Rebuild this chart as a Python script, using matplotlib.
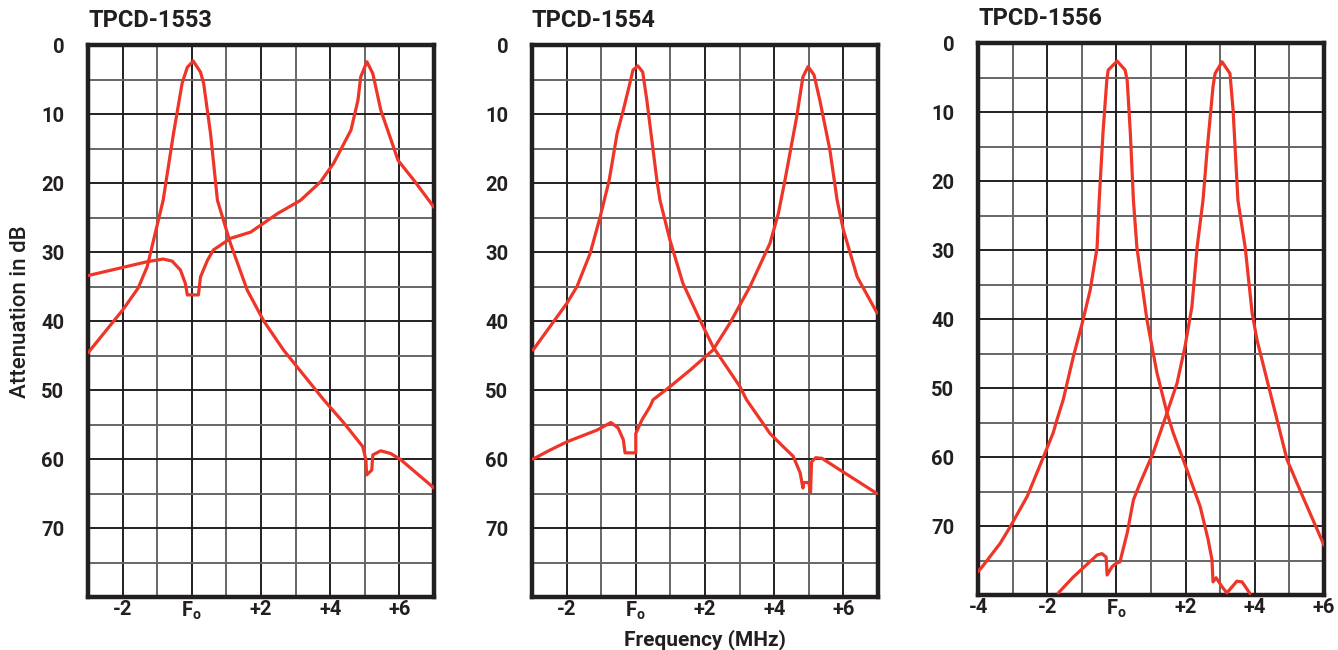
import matplotlib
matplotlib.use('Agg')
import matplotlib.pyplot as plt

plt.rcParams['font.family'] = ['Roboto', 'DejaVu Sans']
plt.rcParams['mathtext.fontset'] = 'custom'
plt.rcParams['mathtext.rm'] = 'Roboto:bold'
plt.rcParams['mathtext.it'] = 'Roboto:bold'
plt.rcParams['mathtext.bf'] = 'Roboto:bold'

# ---- data (MHz from Fo, attenuation dB) ----
titles = ['TPCD-1553', 'TPCD-1554', 'TPCD-1556']

# TPCD-1553
p1_lo_x = [-3.0, -2.0, -1.55, -1.29, -1.06, -0.83, -0.53, -0.28, -0.13, 0.04, 0.25, 0.34,
           0.54, 0.74, 1.12, 1.6, 2.08, 2.65, 3.81, 4.4, 4.94, 5.03, 5.05, 5.2, 5.23, 5.46,
           5.75, 6.04, 7.0]
p1_lo_db = [44.6, 38.4, 35.2, 32.1, 27.3, 22.5, 12.8, 5.5, 3.2, 2.3, 3.9, 5.5,
            12.8, 22.5, 28.8, 35.5, 40.0, 44.2, 51.4, 54.8, 58.2, 60.1, 62.3, 61.6, 59.4, 58.8,
            59.2, 60.1, 64.2]
p1_hi_x = [-3.0, -1.3, -0.83, -0.57, -0.33, -0.19, -0.13, 0.19, 0.25, 0.45, 0.62, 1.12,
           1.7, 2.48, 3.14, 3.72, 4.1, 4.6, 4.8, 4.88, 5.06, 5.23, 5.46, 5.96, 6.42, 7.0]
p1_hi_db = [33.4, 31.4, 31.0, 31.3, 32.6, 34.5, 36.2, 36.2, 33.6, 31.2, 29.7, 28.0,
            27.1, 24.4, 22.5, 19.8, 17.1, 12.3, 8.0, 4.6, 2.4, 4.1, 9.4, 16.7, 19.6, 23.5]

# TPCD-1554
p2_lo_x = [-2.97, -1.99, -1.7, -1.32, -1.03, -0.77, -0.54, -0.36, -0.17, -0.08, 0.06, 0.2,
           0.32, 0.5, 0.61, 0.7, 0.99, 1.36, 1.86, 2.23, 3.01, 3.2, 3.88, 4.26, 4.55, 4.75,
           4.83, 4.85, 5.0, 5.05, 5.08, 5.2, 5.38, 6.97]
p2_lo_db = [44.2, 37.4, 35.0, 30.2, 24.9, 19.6, 12.8, 9.4, 5.5, 3.6, 3.0, 3.9,
            8.0, 15.2, 19.6, 22.5, 28.3, 34.5, 39.9, 43.7, 49.5, 51.4, 56.3, 58.2, 59.6, 62.0,
            64.2, 63.4, 63.4, 64.8, 60.4, 59.8, 59.9, 65.0]
p2_hi_x = [-2.97, -2.48, -1.99, -1.12, -0.72, -0.51, -0.36, -0.31, 0.0, 0.0, 0.18, 0.41,
           0.5, 0.99, 1.57, 2.23, 2.72, 3.3, 3.88, 4.12, 4.31, 4.65, 4.83, 4.98, 5.15, 5.32,
           5.61, 5.82, 6.0, 6.4, 6.97]
p2_hi_db = [60.0, 58.7, 57.5, 55.8, 54.7, 55.5, 57.2, 59.1, 59.1, 56.3, 54.3, 52.4,
            51.4, 49.5, 47.1, 44.2, 40.3, 35.0, 28.7, 24.4, 19.6, 10.4, 4.6, 3.1, 4.3, 8.0,
            15.2, 22.5, 26.8, 33.6, 38.8]

# TPCD-1556
p3_lo_x = [-4.0, -3.88, -3.36, -3.07, -2.58, -2.12, -1.83, -1.72, -1.54, -1.25, -0.99, -0.76,
           -0.56, -0.5, -0.39, -0.28, -0.24, 0.02, 0.25, 0.31, 0.4, 0.49, 0.59, 0.88, 1.17,
           1.46, 1.64, 2.04, 2.42, 2.65, 2.76, 2.79, 2.88, 3.05, 3.19, 3.48, 3.63, 3.86]
p3_lo_db = [76.6, 75.9, 72.5, 70.1, 65.7, 60.1, 56.5, 54.6, 51.7, 45.5, 40.6, 35.8,
            29.6, 22.8, 13.0, 5.4, 3.9, 2.6, 3.9, 5.4, 13.0, 22.8, 29.6, 40.1, 47.8,
            53.6, 56.5, 61.9, 67.2, 72.0, 74.9, 78.1, 77.5, 78.8, 79.7, 78.0, 78.1, 79.8]
p3_hi_x = [-1.68, -1.25, -0.56, -0.42, -0.3, -0.27, -0.13, -0.01, 0.1, 0.31, 0.49, 0.68,
           1.06, 1.46, 1.75, 1.98, 2.18, 2.33, 2.5, 2.62, 2.79, 2.85, 3.05, 3.28, 3.37, 3.51,
           3.72, 3.92, 4.06, 4.35, 4.64, 4.93, 5.39, 6.0]
p3_hi_db = [79.7, 77.4, 74.2, 74.0, 74.5, 77.1, 75.9, 75.4, 75.2, 71.0, 66.2, 63.8,
            59.4, 53.6, 49.3, 44.0, 38.2, 29.6, 22.8, 15.5, 6.3, 4.4, 2.7, 4.4, 9.7, 22.8,
            29.6, 39.1, 43.0, 48.8, 54.6, 60.4, 65.8, 72.8]

panels = [
    (titles[0], (-3, 7), [(p1_lo_x, p1_lo_db), (p1_hi_x, p1_hi_db)], 0.0658, 0.0815),
    (titles[1], (-3, 7), [(p2_lo_x, p2_lo_db), (p2_hi_x, p2_hi_db)], 0.3976, 0.0815),
    (titles[2], (-4, 6), [(p3_lo_x, p3_lo_db), (p3_hi_x, p3_hi_db)], 0.7310, 0.0846),
]

red = '#ee3527'
ink = '#231f20'

fig = plt.figure(figsize=(13.38, 6.5), dpi=100)

for title, xlim, curves, left, bottom in panels:
    ax = fig.add_axes([left, bottom, 0.2586, 0.849])
    for x, db in curves:
        ax.plot(x, db, color=red, lw=2.3, solid_joinstyle='round', solid_capstyle='round',
                zorder=3)
    ax.set_xlim(*xlim)
    ax.set_ylim(80, 0)

    xt = list(range(xlim[0], xlim[1] + 1))
    xl = []
    for v in xt:
        if v == 0:
            xl.append('F$_{o}$')
        elif v % 2 == 0 and (v != xlim[0] or v == -4):
            xl.append('%+d' % v if v > 0 else str(v))
        else:
            xl.append('')
    ax.set_xticks(xt)
    ax.set_xticklabels(xl, fontsize=14.5, fontweight='bold', color=ink)

    yt = list(range(0, 81, 5))
    yl = [str(v) if v % 10 == 0 and v < 80 else '' for v in yt]
    ax.set_yticks(yt)
    ax.set_yticklabels(yl, fontsize=14.5, fontweight='bold', color=ink)

    ax.tick_params(length=0)
    ax.tick_params(axis='y', pad=17)
    ax.tick_params(axis='x', pad=2)
    ax.grid(True, color=ink, lw=1.4)
    for v, gl in zip(xt, ax.get_xgridlines()):
        if v % 2 != 0:
            gl.set_color('#666666')
    for v, gl in zip(yt, ax.get_ygridlines()):
        if v % 10 != 0:
            gl.set_color('#666666')
    for s in ax.spines.values():
        s.set_linewidth(3.2)
        s.set_color(ink)

    fig.text(left, bottom + 0.849 + 0.028, title, fontsize=17, fontweight='bold',
             color=ink, ha='left', va='baseline')

    if title == titles[1]:
        ax.set_xlabel('Frequency (MHz)', fontsize=15, fontweight='bold', color=ink,
                      labelpad=5)
    if title == titles[0]:
        fig.text(0.015, 0.52, 'Attenuation in dB', rotation=90, fontsize=16,
                 fontweight='medium', color=ink, ha='center', va='center')

fig.savefig('out.png', dpi=100)
